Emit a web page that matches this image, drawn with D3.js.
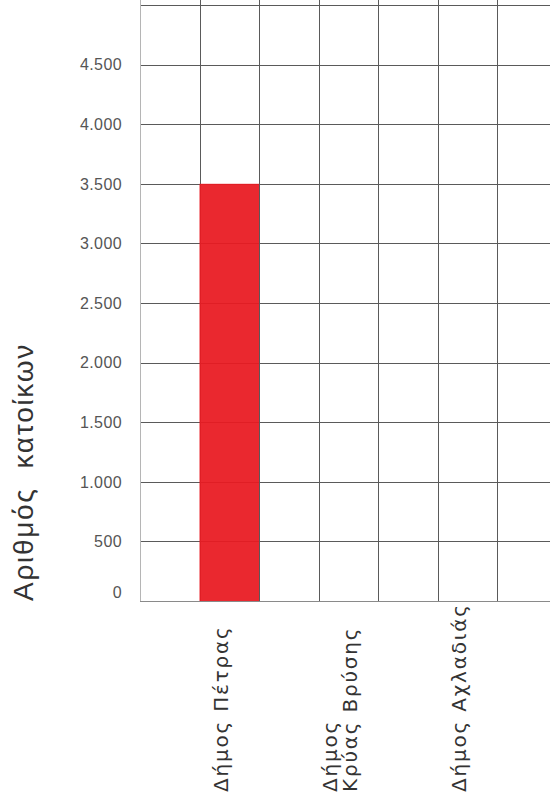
<!DOCTYPE html>
<html>
<head>
<meta charset="utf-8">
<script src="https://cdn.jsdelivr.net/npm/d3@7"></script>
<style>
  body { margin: 0; background: #fff; }
</style>
</head>
<body>
<div id="chart"></div>
<script>
var width = 550;
var height = 800;

var municipalities = [["Δήμος Πέτρας"], ["Δήμος", "Κρύας Βρύσης"], ["Δήμος Αχλαδιάς"]];
var residents = [3500, null, null];
var yTicks = [0, 500, 1000, 1500, 2000, 2500, 3000, 3500, 4000, 4500];
var yGrid = [0, 500, 1000, 1500, 2000, 2500, 3000, 3500, 4000, 4500, 5000];
var yTitle = "Αριθμός  κατοίκων";

var plotLeft = 140, plotBottom = 601, plotTop = 5;

var names = municipalities.map(function(d) { return d.join(" "); });

var x = d3.scaleBand()
    .domain(names)
    .range([plotLeft, plotLeft + 119 * 3.5])
    .paddingInner(0.5)
    .paddingOuter(0.5);

var y = d3.scaleLinear()
    .domain([0, 5000])
    .range([plotBottom, plotTop]);

var svg = d3.select("#chart")
    .append("svg")
    .attr("width", width)
    .attr("height", height);

svg.append("rect")
    .attr("width", width)
    .attr("height", height)
    .attr("fill", "white");

// horizontal grid
svg.selectAll(".hgrid")
    .data(yGrid)
    .enter().append("line")
    .attr("class", "hgrid")
    .attr("x1", plotLeft)
    .attr("x2", width)
    .attr("y1", function(d) { return Math.round(y(d)) + 0.5; })
    .attr("y2", function(d) { return Math.round(y(d)) + 0.5; })
    .attr("stroke", function(d) { return d === 0 ? "#8a8a8a" : "#5a5a5a"; })
    .attr("stroke-width", 1);

// vertical grid: left edge plus both sides of every band
var vLines = [plotLeft];
names.forEach(function(d) {
    vLines.push(x(d));
    vLines.push(x(d) + x.bandwidth());
});

svg.selectAll(".vgrid")
    .data(vLines)
    .enter().append("line")
    .attr("class", "vgrid")
    .attr("x1", function(d) { return Math.round(d) + 0.5; })
    .attr("x2", function(d) { return Math.round(d) + 0.5; })
    .attr("y1", 0)
    .attr("y2", plotBottom)
    .attr("stroke", function(d, i) { return i === 0 ? "#b5b5b5" : "#5a5a5a"; })
    .attr("stroke-width", 1);

// bar, grid faintly showing through
svg.selectAll(".bar")
    .data(names.filter(function(d, i) { return residents[i] != null; }))
    .enter().append("rect")
    .attr("class", "bar")
    .attr("x", function(d) { return x(d); })
    .attr("width", x.bandwidth())
    .attr("y", function(d) { return y(residents[names.indexOf(d)]); })
    .attr("height", function(d) { return plotBottom - y(residents[names.indexOf(d)]); })
    .attr("fill", "#e91b22")
    .attr("fill-opacity", 0.94);

// y tick labels
var fmt = d3.formatLocale({ decimal: ",", thousands: ".", grouping: [3], currency: ["", "€"] }).format(",");

svg.selectAll(".ytick")
    .data(yTicks)
    .enter().append("text")
    .attr("class", "ytick")
    .attr("x", 122)
    .attr("y", function(d) { return y(d); })
    .attr("dy", function(d) { return d === 0 ? "-0.2em" : "0.36em"; })
    .attr("text-anchor", "end")
    .style("font-family", "Liberation Sans, Arial, sans-serif")
    .style("font-size", "16px")
    .style("letter-spacing", "0.4px")
    .attr("fill", "#555")
    .text(function(d) { return fmt(d); });

// y title
svg.append("text")
    .attr("transform", "translate(33," + 472 + ") rotate(-90)")
    .attr("text-anchor", "middle")
    .style("font-family", "Liberation Sans, Arial, sans-serif")
    .style("font-size", "28px")
    .style("letter-spacing", "1.7px")
    .style("white-space", "pre")
    .attr("fill", "#333")
    .text(yTitle);

// category labels, rotated, starting from the bottom
var lab = svg.selectAll(".xlabel")
    .data(municipalities)
    .enter().append("g")
    .attr("class", "xlabel")
    .attr("transform", function(d, i) {
        return "translate(" + (x(names[i]) + x.bandwidth() / 2) + ",792) rotate(-90)";
    });

lab.selectAll("text")
    .data(function(d) { return d.map(function(t, j) { return { t: t, j: j, n: d.length }; }); })
    .enter().append("text")
    .attr("x", 0)
    .attr("y", function(d) { return (d.j - (d.n - 1) / 2) * 20 - 1; })
    .attr("text-anchor", "start")
    .style("font-family", "DejaVu Sans, sans-serif")
    .style("font-size", "20px")
    .style("letter-spacing", "1.8px")
    .attr("fill", "#333")
    .text(function(d) { return d.t; });
</script>
</body>
</html>
